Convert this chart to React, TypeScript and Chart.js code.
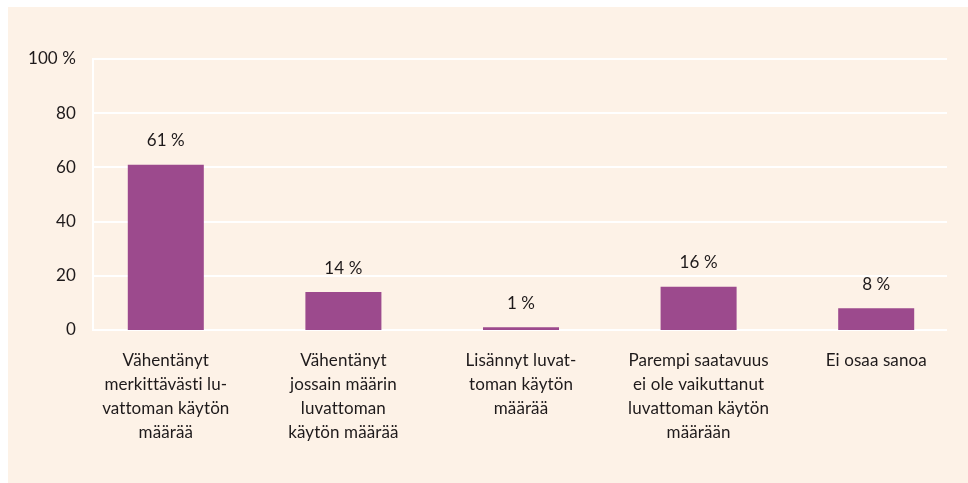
import React, { useEffect, useRef } from "react";
import { Chart, registerables } from "chart.js";

Chart.register(...registerables);

const categories: string[][] = [
  ["Vähentänyt", "merkittävästi lu-", "vattoman käytön", "määrää"],
  ["Vähentänyt", "jossain määrin", "luvattoman", "käytön määrää"],
  ["Lisännyt luvat-", "toman käytön", "määrää"],
  ["Parempi saatavuus", "ei ole vaikuttanut", "luvattoman käytön", "määrään"],
  ["Ei osaa sanoa"],
];
const values: number[] = [61, 14, 1, 16, 8];
const yTicks: number[] = [0, 20, 40, 60, 80, 100];

const BG = "#fdf2e7";
const BAR = "#9c4a8d";
const TEXT = "#1e1a1b";
const FONT = "Lato";

const noLigaturePlugin = {
  id: "noLigatures",
  beforeDraw(chart: any) {
    try {
      (chart.ctx as any).letterSpacing = "0.1px";
    } catch (e) {
      /* ignore */
    }
  },
};

const gridPlugin = {
  id: "customGrid",
  beforeDatasetsDraw(chart: any) {
    const { ctx, chartArea, scales } = chart;
    const y = scales.y;
    const left = chartArea.left + 16;
    const right = chartArea.right - 18;
    ctx.save();
    ctx.strokeStyle = "#ffffff";
    ctx.lineWidth = 2;
    yTicks.forEach((v) => {
      const py = Math.round(y.getPixelForValue(v));
      ctx.beginPath();
      ctx.moveTo(left, py);
      ctx.lineTo(right, py);
      ctx.stroke();
    });
    ctx.beginPath();
    ctx.moveTo(left, y.getPixelForValue(0) + 1);
    ctx.lineTo(left, y.getPixelForValue(100) - 1);
    ctx.stroke();
    ctx.restore();
  },
};

const labelPlugin = {
  id: "valueLabels",
  afterDatasetsDraw(chart: any) {
    const { ctx } = chart;
    const meta = chart.getDatasetMeta(0);
    ctx.save();
    ctx.fillStyle = TEXT;
    ctx.font = `17px ${FONT}`;
    ctx.textAlign = "center";
    ctx.textBaseline = "middle";
    meta.data.forEach((bar: any, i: number) => {
      ctx.fillText(`${values[i]} %`, bar.x, bar.y - 24);
    });
    ctx.restore();
  },
};

export default function App() {
  const ref = useRef<HTMLCanvasElement | null>(null);
  useEffect(() => {
    if (!ref.current) return;
    const chart = new Chart(ref.current, {
      type: "bar",
      data: {
        labels: categories,
        datasets: [
          {
            data: values,
            backgroundColor: BAR,
            borderWidth: 0,
            barPercentage: 0.428,
            categoryPercentage: 1,
          },
        ],
      },
      plugins: [noLigaturePlugin, gridPlugin, labelPlugin],
      options: {
        animation: false,
        responsive: false,
        maintainAspectRatio: false,
        layout: { padding: { top: 52, right: 3, left: 0, bottom: 0 } },
        plugins: {
          legend: { display: false },
          tooltip: { enabled: false },
        },
        scales: {
          x: {
            grid: { display: false, drawTicks: false },
            border: { display: false },
            ticks: {
              color: TEXT,
              font: { family: FONT, size: 17, lineHeight: 1.4 },
              padding: 19,
              maxRotation: 0,
              autoSkip: false,
            },
            afterFit(scale: any) {
              scale.height = 153;
            },
          },
          y: {
            min: 0,
            max: 100,
            grid: { display: false, drawTicks: false },
            border: { display: false },
            ticks: {
              stepSize: 20,
              color: TEXT,
              padding: 1,
              font: { family: FONT, size: 17 },
              callback: (v: any) => (v === 100 ? "100 %" : String(v)),
            },
            afterFit(scale: any) {
              scale.width = 69;
            },
          },
        },
      },
    });
    return () => chart.destroy();
  }, []);
  return (
    <div
      style={{
        position: "fixed",
        left: 8,
        top: 7,
        width: 960,
        height: 476,
        background: BG,
      }}
    >
      <canvas ref={ref} width={960} height={476} style={{ display: "block" }} />
    </div>
  );
}
